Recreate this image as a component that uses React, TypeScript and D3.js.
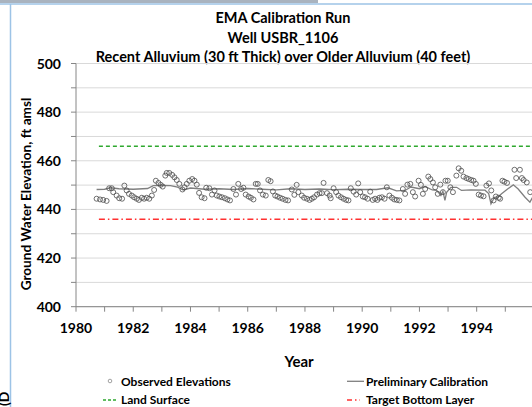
import React from "react";
import * as d3 from "d3";

const obsYears = [
  1980.72, 1980.84, 1980.95, 1981.07, 1981.16, 1981.25, 1981.3, 1981.42, 1981.51, 1981.61,
  1981.69, 1981.77, 1981.85, 1981.95, 1982.03, 1982.12, 1982.2, 1982.3, 1982.38, 1982.47,
  1982.56, 1982.65, 1982.73, 1982.79, 1982.88, 1982.96, 1983.03, 1983.12, 1983.17, 1983.26,
  1983.36, 1983.44, 1983.52, 1983.61, 1983.72, 1983.79, 1983.87, 1983.96, 1984.06, 1984.14,
  1984.22, 1984.3, 1984.39, 1984.49, 1984.55, 1984.66, 1984.75, 1984.84, 1984.92, 1985.01,
  1985.1, 1985.2, 1985.29, 1985.38, 1985.5, 1985.59, 1985.67, 1985.77, 1985.85, 1985.93,
  1986.03, 1986.11, 1986.2, 1986.28, 1986.35, 1986.43, 1986.53, 1986.63, 1986.72, 1986.8,
  1986.88, 1986.96, 1987.04, 1987.13, 1987.22, 1987.32, 1987.41, 1987.54, 1987.63, 1987.71,
  1987.77, 1987.89, 1987.97, 1988.07, 1988.16, 1988.24, 1988.32, 1988.42, 1988.51, 1988.59,
  1988.65, 1988.77, 1988.86, 1988.9, 1989.0, 1989.09, 1989.17, 1989.26, 1989.35, 1989.44,
  1989.52, 1989.6, 1989.7, 1989.79, 1989.86, 1989.93, 1990.02, 1990.1, 1990.19, 1990.28,
  1990.37, 1990.45, 1990.53, 1990.6, 1990.69, 1990.78, 1990.86, 1990.95, 1991.04, 1991.12,
  1991.21, 1991.3, 1991.42, 1991.5, 1991.58, 1991.68, 1991.77, 1991.85, 1991.97, 1992.05,
  1992.12, 1992.2, 1992.31, 1992.38, 1992.47, 1992.55, 1992.64, 1992.73, 1992.82, 1992.91,
  1992.99, 1993.08, 1993.17, 1993.29, 1993.37, 1993.46, 1993.54, 1993.64, 1993.72, 1993.81,
  1993.89, 1993.97, 1994.07, 1994.15, 1994.24, 1994.34, 1994.43, 1994.51, 1994.59, 1994.67,
  1994.77, 1994.82, 1994.9, 1994.97, 1995.06, 1995.32, 1995.38, 1995.51, 1995.58, 1995.64,
  1995.75, 1995.87,
];
const obsValues = [
  444.4, 444.1, 443.9, 443.5, 448.7, 448.7, 447.1, 445.7, 444.6, 444.4,
  449.8, 447.8, 446.4, 445.7, 445.0, 444.4, 443.9, 444.8, 444.4, 444.8,
  444.4, 445.7, 448.0, 451.8, 450.9, 450.1, 449.4, 453.9, 455.0, 455.0,
  454.2, 453.2, 452.1, 450.5, 448.2, 449.1, 450.5, 451.8, 452.5, 451.8,
  450.2, 446.8, 445.0, 444.6, 448.9, 448.7, 446.1, 447.8, 445.7, 445.3,
  445.0, 444.6, 444.1, 443.7, 448.4, 446.1, 450.5, 448.4, 448.9, 446.1,
  445.3, 444.8, 444.1, 450.5, 450.5, 447.8, 446.1, 445.7, 452.1, 451.6,
  447.4, 445.7, 445.3, 444.8, 444.4, 443.9, 443.7, 448.2, 446.0, 450.1,
  447.1, 445.7, 444.8, 444.4, 443.9, 444.4, 445.0, 446.1, 446.7, 446.7,
  450.9, 446.7, 445.7, 444.6, 448.7, 447.1, 445.7, 445.0, 444.4, 443.9,
  443.7, 448.7, 447.3, 446.1, 450.7, 447.1, 445.3, 445.0, 444.4, 447.3,
  443.9, 444.4, 443.9, 444.8, 445.0, 444.4, 449.1, 445.7, 444.8, 444.1,
  443.9, 443.7, 448.4, 446.4, 450.2, 450.5, 447.1, 445.3, 451.8, 450.1,
  446.4, 448.4, 453.5, 452.5, 451.1, 449.1, 446.4, 450.2, 447.1, 451.8,
  451.8, 449.1, 447.1, 453.9, 456.9, 455.9, 453.5, 452.9, 452.5, 452.1,
  451.8, 450.5, 446.1, 445.7, 445.4, 449.8, 450.7, 447.8, 443.7, 445.3,
  444.8, 444.4, 451.8, 451.4, 450.9, 456.3, 452.9, 456.3, 452.9, 452.1,
  451.1, 447.1,
];

const calYears = [
  1980.72, 1981.0, 1981.2, 1981.5, 1982.0, 1982.5, 1982.7, 1983.0, 1983.3, 1983.55,
  1983.75, 1984.0, 1984.5, 1985.0, 1985.5, 1986.0, 1986.5, 1987.0, 1987.5, 1988.0,
  1988.5, 1989.0, 1989.5, 1990.0, 1990.5, 1990.9, 1991.2, 1991.5, 1991.7, 1992.0,
  1992.2, 1992.45, 1992.6, 1992.7, 1992.75, 1992.82, 1992.89, 1992.95, 1993.1, 1993.3,
  1993.47, 1993.8, 1994.29, 1994.42, 1994.5, 1994.62, 1994.75, 1994.87, 1995.08, 1995.28,
  1995.45, 1995.69, 1995.86, 1996.0,
];
const calValues = [
  448.2, 448.3, 448.9, 448.5, 448.3, 448.6, 449.8, 449.9, 449.8, 449.2,
  448.0, 448.8, 448.3, 448.5, 448.2, 448.6, 448.3, 448.0, 448.5, 448.2,
  448.4, 448.1, 448.3, 448.2, 448.2, 448.9, 447.6, 447.8, 449.2, 448.5,
  449.4, 448.0, 447.8, 446.5, 445.7, 447.5, 443.7, 447.0, 449.1, 449.1,
  447.8, 448.0, 447.9, 446.5, 442.3, 445.0, 445.2, 446.4, 448.4, 450.1,
  448.4, 445.0, 443.0, 446.0,
];

const landSurface = 466;
const targetBottom = 436;

const yTicks = [400, 410, 420, 430, 440, 450, 460, 470, 480, 490, 500];
const yLabels = [400, 420, 440, 460, 480, 500];
const xTicks = d3.range(1980, 1997, 1);
const xLabels = d3.range(1980, 1995, 2);

const titleLines = [
  "EMA Calibration Run",
  "Well USBR_1106",
  "Recent Alluvium (30 ft Thick) over Older Alluvium (40 feet)",
];

const FONT = "Lato, 'Open Sans', sans-serif";

export default function App() {
  const W = 532;
  const H = 407;
  const x = d3.scaleLinear().domain([1980, 2010]).range([76, 76 + 30 * 28.62]);
  const y = d3.scaleLinear().domain([400, 500]).range([306.7, 63.5]);

  const line = d3
    .line<number>()
    .x((_, i) => x(calYears[i]))
    .y((d) => y(d));

  const axisColor = "#868686";
  const gridColor = "#d9d9d9";

  return (
    <svg
      width={W}
      height={H}
      style={{ position: "absolute", left: 0, top: 0, background: "#fff" }}
      fontFamily={FONT}
    >
      <rect x={0} y={0} width={W} height={H} fill="#fff" />
      {/* outer frame fragments */}
      <rect x={0} y={0} width={318} height={3} fill="#a9b3bf" />
      <line x1={0} x2={W} y1={4} y2={4} stroke="#9dc3e6" strokeWidth={1.5} />
      <line x1={10.5} x2={10.5} y1={4} y2={H} stroke="#9dc3e6" strokeWidth={1.5} />

      {/* titles */}
      <g fontWeight="bold" fontSize={14.5} textAnchor="middle" fill="#000">
        <text x={283} y={22.5}>{titleLines[0]}</text>
        <text x={283} y={43}>{titleLines[1]}</text>
        <text x={283} y={61.5}>{titleLines[2]}</text>
      </g>

      {/* gridlines */}
      {yTicks.map((t) => (
        <line key={"g" + t} x1={x(1980)} x2={W} y1={y(t)} y2={y(t)} stroke={gridColor} strokeWidth={1} />
      ))}

      {/* axes */}
      <line x1={x(1980)} x2={x(1980)} y1={y(500)} y2={y(400)} stroke={axisColor} strokeWidth={1} />
      <line x1={x(1980)} x2={W} y1={y(400)} y2={y(400)} stroke={axisColor} strokeWidth={1} />
      {yTicks.map((t) => (
        <line key={"yt" + t} x1={x(1980) - 5} x2={x(1980)} y1={y(t)} y2={y(t)} stroke={axisColor} />
      ))}
      {xTicks.map((t) => (
        <line key={"xt" + t} x1={x(t)} x2={x(t)} y1={y(400)} y2={y(400) + 5} stroke={axisColor} />
      ))}
      <g fontWeight="bold" fontSize={14} fill="#000">
        {yLabels.map((t) => (
          <text key={"yl" + t} x={61} y={y(t) + 5} textAnchor="end">{t}</text>
        ))}
        {xLabels.map((t) => (
          <text key={"xl" + t} x={x(t)} y={333} textAnchor="middle">{t}</text>
        ))}
      </g>

      {/* axis titles */}
      <text x={299} y={366.5} textAnchor="middle" fontWeight="bold" fontSize={15}>Year</text>
      <text
        transform={`translate(31,194) rotate(-90)`}
        textAnchor="middle"
        fontWeight="bold"
        fontSize={13.6}
      >
        Ground Water Elevation, ft amsl
      </text>

      {/* reference lines */}
      <line x1={x(1980.8)} x2={W} y1={y(landSurface)} y2={y(landSurface)} stroke="#2ea82e" strokeWidth={1.5} strokeDasharray="4 3" />
      <line x1={x(1980.8)} x2={W} y1={y(targetBottom)} y2={y(targetBottom)} stroke="#ff3030" strokeWidth={1.5} strokeDasharray="6 3 1.5 3" />

      {/* calibration line */}
      <path d={line(calValues) || ""} fill="none" stroke="#7f7f7f" strokeWidth={1.3} />

      {/* observed */}
      {obsValues.map((v, i) => (
        <circle key={"o" + i} cx={x(obsYears[i])} cy={y(v)} r={2.5} fill="#fff" fillOpacity={0} stroke="#4d4d4d" strokeWidth={0.8} />
      ))}

      {/* legend */}
      <g fontWeight="bold" fontSize={12} fill="#000">
        <circle cx={110} cy={381} r={1.8} fill="none" stroke="#8a8a8a" strokeWidth={0.8} />
        <text x={121} y={386}>Observed  Elevations</text>
        <line x1={347} x2={364} y1={381.3} y2={381.3} stroke="#7f7f7f" strokeWidth={1.3} />
        <text x={366} y={386}>Preliminary Calibration</text>
        <line x1={103} x2={118} y1={400} y2={400} stroke="#2ea82e" strokeWidth={1.5} strokeDasharray="3 2" />
        <text x={121} y={404}>Land Surface</text>
        <line x1={347} x2={360} y1={400} y2={400} stroke="#ff3030" strokeWidth={1.5} strokeDasharray="5 3 1.5 3" />
        <text x={366} y={404}>Target Bottom Layer</text>
      </g>

      {/* clipped fragment at lower-left edge */}
      <text transform="translate(9,406) rotate(-90)" fontWeight="bold" fontSize={14} fill="#000">(D</text>
    </svg>
  );
}
